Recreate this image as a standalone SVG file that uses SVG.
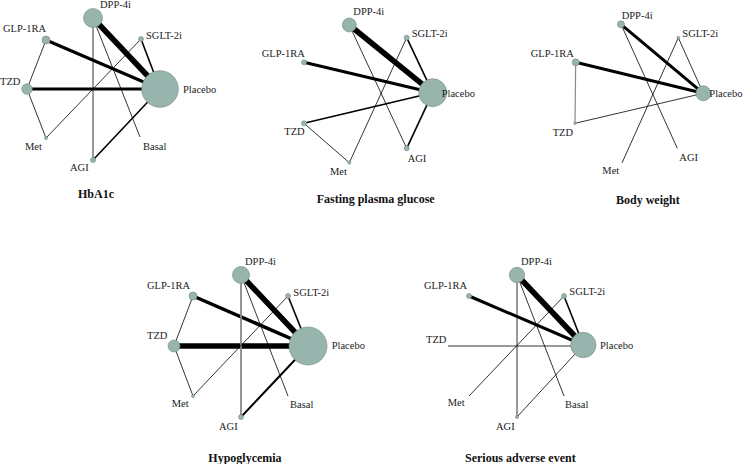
<svg xmlns="http://www.w3.org/2000/svg" width="748" height="464" viewBox="0 0 748 464">
<style>
text{font-family:"Liberation Serif","Times New Roman",serif;font-size:10.5px;fill:#222}
.t{font-weight:bold;font-size:12px;fill:#111}
line{stroke:#000;stroke-linecap:butt}
.w1{stroke-width:0.8}
.w2{stroke-width:1.6}
.w3{stroke-width:3}
.w5{stroke-width:5.5}
.g{stroke:#8a8a8a}
circle{fill:#98b5ad;stroke:#6f8a84;stroke-width:0.6}
</style>
<rect width="748" height="464" fill="#fff"/>

<!-- Panel 1: HbA1c -->
<g id="p1-edges">
<line class="w5" x1="93" y1="18" x2="160" y2="89"/>
<line class="w3" x1="46" y1="40" x2="160" y2="89"/>
<line class="w3" x1="27" y1="89" x2="160" y2="89"/>
<line class="w2" x1="141" y1="39" x2="160" y2="89"/>
<line class="w2" x1="93" y1="160" x2="160" y2="89"/>
<line class="w1" x1="93" y1="18" x2="93" y2="160"/>
<line class="w1" x1="93" y1="18" x2="140" y2="137"/>
<line class="w1" x1="141" y1="39" x2="46" y2="138"/>
<line class="w1" x1="46" y1="40" x2="27" y2="89"/>
<line class="w1" x1="27" y1="89" x2="46" y2="138"/>
</g>
<g id="p1-DPP"><circle cx="93" cy="18" r="9.5"/><text x="100" y="8">DPP-4i</text></g>
<g id="p1-GLP"><circle cx="46" cy="40" r="4"/><text x="3" y="31.5">GLP-1RA</text></g>
<g id="p1-SGLT"><circle cx="141" cy="39" r="2.5"/><text x="146" y="39">SGLT-2i</text></g>
<g id="p1-TZD"><circle cx="27" cy="89" r="5.3"/><text x="0" y="85">TZD</text></g>
<g id="p1-Placebo"><circle cx="160" cy="89" r="18.3"/><text x="183" y="92.5">Placebo</text></g>
<g id="p1-Met"><circle cx="46" cy="138" r="1.5"/><text x="25" y="150">Met</text></g>
<g id="p1-Basal"><text x="143" y="150">Basal</text></g>
<g id="p1-AGI"><circle cx="93" cy="160" r="2.5"/><text x="70" y="170.5">AGI</text></g>
<text class="t" x="78" y="198">HbA1c</text>

<!-- Panel 2: Fasting plasma glucose -->
<g id="p2-edges">
<line class="w5" x1="349.3" y1="25" x2="432.7" y2="92.7"/>
<line class="w3" x1="304" y1="62.3" x2="432.7" y2="92.7"/>
<line class="w2" x1="304" y1="123.3" x2="432.7" y2="92.7"/>
<line class="w2" x1="406.7" y1="37.7" x2="432.7" y2="92.7"/>
<line class="w2" x1="406.7" y1="148.3" x2="432.7" y2="92.7"/>
<line class="w1" x1="349.3" y1="25" x2="406.7" y2="148.3"/>
<line class="w1" x1="406.7" y1="37.7" x2="349.3" y2="162.7"/>
<line class="w1" x1="304" y1="123.3" x2="349.3" y2="162.7"/>
</g>
<g id="p2-DPP"><circle cx="349.3" cy="25" r="7"/><text x="353.3" y="15">DPP-4i</text></g>
<g id="p2-SGLT"><circle cx="406.7" cy="37.7" r="2.5"/><text x="411.7" y="37">SGLT-2i</text></g>
<g id="p2-GLP"><circle cx="304" cy="62.3" r="2.5"/><text x="261.7" y="57">GLP-1RA</text></g>
<g id="p2-Placebo"><circle cx="432.7" cy="92.7" r="14"/><text x="441.7" y="97">Placebo</text></g>
<g id="p2-TZD"><circle cx="304" cy="123.3" r="2.5"/><text x="284.3" y="135">TZD</text></g>
<g id="p2-Met"><circle cx="349.3" cy="162.7" r="1.5"/><text x="330" y="175">Met</text></g>
<g id="p2-AGI"><circle cx="406.7" cy="148.3" r="2.5"/><text x="407.7" y="161.7">AGI</text></g>
<text class="t" x="316.7" y="203">Fasting plasma glucose</text>

<!-- Panel 3: Body weight -->
<g id="p3-edges">
<line class="w3" x1="621" y1="24.3" x2="703.3" y2="93.3"/>
<line class="w3" x1="575.7" y1="62.3" x2="703.3" y2="93.3"/>
<line class="w1" x1="678.3" y1="37.7" x2="703.3" y2="93.3"/>
<line class="w1" x1="575" y1="123.3" x2="703.3" y2="93.3"/>
<line class="w1 g" x1="575.7" y1="62.3" x2="575" y2="123.3" style="stroke-width:1.2"/>
<line class="w1" x1="621" y1="24.3" x2="677.3" y2="148.3"/>
<line class="w1" x1="678.3" y1="37.7" x2="622" y2="163"/>
</g>
<g id="p3-DPP"><circle cx="621" cy="24.3" r="3.5"/><text x="621.7" y="19">DPP-4i</text></g>
<g id="p3-SGLT"><circle cx="678.3" cy="37.7" r="1.5"/><text x="682.3" y="37">SGLT-2i</text></g>
<g id="p3-GLP"><circle cx="575.7" cy="62.3" r="3.5"/><text x="530.7" y="57">GLP-1RA</text></g>
<g id="p3-Placebo"><circle cx="703.3" cy="93.3" r="7.5"/><text x="709.3" y="97">Placebo</text></g>
<g id="p3-TZD"><circle cx="575" cy="123.3" r="1.3"/><text x="552.7" y="136">TZD</text></g>
<g id="p3-Met"><text x="602.3" y="174">Met</text></g>
<g id="p3-AGI"><text x="679.3" y="160.5">AGI</text></g>
<text class="t" x="616" y="204">Body weight</text>

<!-- Panel 4: Hypoglycemia -->
<g id="p4-edges">
<line class="w5" x1="241" y1="275" x2="308" y2="346"/>
<line class="w3" x1="193" y1="296" x2="308" y2="346" style="stroke-width:3.5"/>
<line class="w5" x1="174" y1="346" x2="308" y2="346"/>
<line class="w2" x1="288" y1="296" x2="308" y2="346"/>
<line class="w2" x1="241" y1="417" x2="308" y2="346" style="stroke-width:2"/>
<line class="g" x1="241" y1="275" x2="241" y2="417" style="stroke-width:1.8"/>
<line class="w1" x1="241" y1="275" x2="288" y2="396"/>
<line class="w1" x1="288" y1="296" x2="193" y2="396"/>
<line class="w1" x1="193" y1="296" x2="174" y2="346"/>
<line class="w1" x1="174" y1="346" x2="193" y2="396"/>
</g>
<g id="p4-DPP"><circle cx="241" cy="275" r="8.5"/><text x="245" y="264.5">DPP-4i</text></g>
<g id="p4-GLP"><circle cx="193" cy="296" r="4"/><text x="147" y="289">GLP-1RA</text></g>
<g id="p4-SGLT"><circle cx="288" cy="296" r="2.5"/><text x="293.3" y="295.5">SGLT-2i</text></g>
<g id="p4-TZD"><circle cx="174" cy="346" r="6"/><text x="147" y="339">TZD</text></g>
<g id="p4-Placebo"><circle cx="308" cy="346" r="19"/><text x="331.7" y="349">Placebo</text></g>
<g id="p4-Met"><circle cx="193" cy="396" r="1.5"/><text x="171.7" y="406.5">Met</text></g>
<g id="p4-Basal"><text x="290" y="408">Basal</text></g>
<g id="p4-AGI"><circle cx="241" cy="417" r="2.5"/><text x="219" y="430">AGI</text></g>
<text class="t" x="208.3" y="461.5">Hypoglycemia</text>

<!-- Panel 5: Serious adverse event -->
<g id="p5-edges">
<line class="w5" x1="517" y1="275" x2="583.3" y2="345"/>
<line class="w3" x1="469" y1="296" x2="583.3" y2="345"/>
<line class="w2" x1="564" y1="296" x2="583.3" y2="345"/>
<line class="w1" x1="448" y1="346" x2="583.3" y2="346"/>
<line class="w1" x1="517" y1="417" x2="583.3" y2="345"/>
<line class="w1" x1="517" y1="275" x2="517" y2="417"/>
<line class="w1" x1="517" y1="275" x2="564" y2="396"/>
<line class="w1" x1="564" y1="296" x2="469" y2="396"/>
</g>
<g id="p5-DPP"><circle cx="517" cy="275" r="7.7"/><text x="521" y="264.5">DPP-4i</text></g>
<g id="p5-GLP"><circle cx="469" cy="296" r="2.5"/><text x="424" y="289">GLP-1RA</text></g>
<g id="p5-SGLT"><circle cx="564" cy="296" r="2.5"/><text x="569.3" y="295">SGLT-2i</text></g>
<g id="p5-TZD"><text x="426" y="343">TZD</text></g>
<g id="p5-Placebo"><circle cx="583.3" cy="345" r="12.7"/><text x="600" y="349">Placebo</text></g>
<g id="p5-Met"><text x="447.7" y="406">Met</text></g>
<g id="p5-Basal"><text x="565" y="407.5">Basal</text></g>
<g id="p5-AGI"><circle cx="517" cy="417" r="1.5"/><text x="496" y="430">AGI</text></g>
<text class="t" x="465" y="461.5">Serious adverse event</text>
</svg>
